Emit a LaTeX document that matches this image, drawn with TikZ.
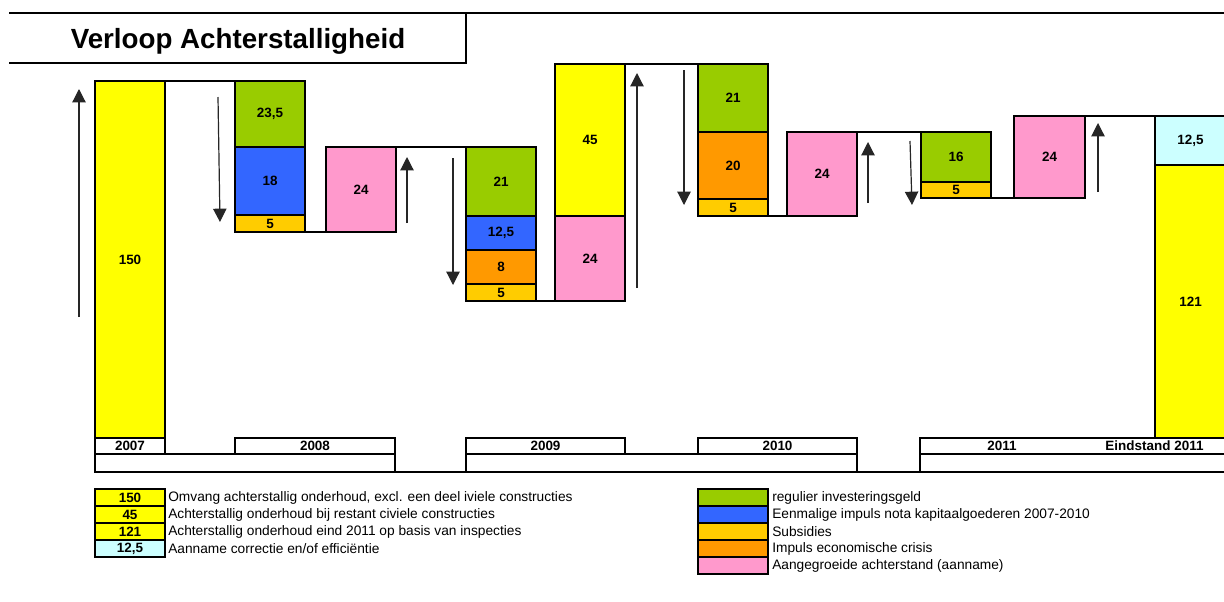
\documentclass[tikz,border=0pt]{standalone}
\usepackage{fontspec}
\setmainfont{Liberation Sans}
\usetikzlibrary{arrows.meta}
\definecolor{cYel}{HTML}{FFFF00}
\definecolor{cGrn}{HTML}{99CC00}
\definecolor{cBlu}{HTML}{3366FF}
\definecolor{cGld}{HTML}{FFCC00}
\definecolor{cOra}{HTML}{FF9900}
\definecolor{cPnk}{HTML}{FF99CC}
\definecolor{cCya}{HTML}{CCFFFF}
\newcommand\segbx[7]{\node[segbox,fill=#6,minimum width={(#4-#2)*0.75pt},minimum height={(#5-#3)*0.75pt}] (#1) at ({(#2+#4)/2},{(#3+#5)/2}) {#7};}
\newcommand\axbx[6]{\node[segbox,fill=white,minimum width={(#4-#2)*0.75pt},minimum height={(#5-#3)*0.75pt}] (#1) at ({(#2+#4)/2},{(#3+#5)/2}) {#6};}
\tikzset{
  segbox/.style={draw=black,line width=1.5pt,inner sep=0pt,outer sep=0pt,rectangle,font=\fontsize{10.1}{12}\selectfont\bfseries},
  stepline/.style={draw=black,line width=1.5pt},
  flowarrow/.style={draw=black!85,line width=0.9pt,-{Triangle[width=10pt,length=10pt]}},
  legtext/.style={anchor=west,inner sep=0pt,font=\fontsize{10.3}{12}\selectfont},
  titlefont/.style={font=\fontsize{20.8}{24}\selectfont\bfseries},
}
\begin{document}
\begin{tikzpicture}[x=0.75pt,y=-0.75pt]
\useasboundingbox (0,0) rectangle (1224,601);
% title
\coordinate (tl) at (9,13);
\coordinate (tr) at (1226,13);
\coordinate (tbr) at (466,63);
\coordinate (tbl) at (9,63);
\draw[stepline] (tl) -- (tr);
\draw[stepline] (tbl) -- (tbr) -- (466,13);
\node[titlefont] (title) at (238,41) {Verloop Achterstalligheid};
% bars
\segbx{b07}{95}{81}{165}{438}{cYel}{150}
\segbx{g08}{235}{81}{305}{147}{cGrn}{23,5}
\segbx{bl08}{235}{147}{305}{215}{cBlu}{18}
\segbx{s08}{235}{215}{305}{232}{cGld}{5}
\segbx{p08}{326}{147}{396}{232}{cPnk}{24}
\segbx{g09}{466}{147}{536}{216}{cGrn}{21}
\segbx{bl09}{466}{216}{536}{250}{cBlu}{12,5}
\segbx{o09}{466}{250}{536}{284}{cOra}{8}
\segbx{s09}{466}{284}{536}{301}{cGld}{5}
\segbx{y09}{555}{64}{625}{216}{cYel}{45}
\segbx{p09}{555}{216}{625}{301}{cPnk}{24}
\segbx{g10}{698}{64}{768}{132}{cGrn}{21}
\segbx{o10}{698}{132}{768}{199}{cOra}{20}
\segbx{s10}{698}{199}{768}{216}{cGld}{5}
\segbx{p10}{787}{132}{857}{216}{cPnk}{24}
\segbx{g11}{921}{132}{991}{182}{cGrn}{16}
\segbx{s11}{921}{182}{991}{198}{cGld}{5}
\segbx{p11}{1014}{116}{1085}{198}{cPnk}{24}
\segbx{c11}{1155}{116}{1226}{165}{cCya}{12,5}
\segbx{y11}{1155}{165}{1226}{438}{cYel}{121}
% step lines
\draw[stepline] (b07.north east) -- (g08.north west);
\draw[stepline] (s08.south east) -- (p08.south west);
\draw[stepline] (p08.north east) -- (g09.north west);
\draw[stepline] (s09.south east) -- (p09.south west);
\draw[stepline] (y09.north east) -- (g10.north west);
\draw[stepline] (s10.south east) -- (p10.south west);
\draw[stepline] (p10.north east) -- (g11.north west);
\draw[stepline] (s11.south east) -- (p11.south west);
\draw[stepline] (p11.north east) -- (c11.north west);
% arrows
\coordinate (a1s) at (79,317);  \coordinate (a1e) at (79,89);
\coordinate (a2s) at (218,97);  \coordinate (a2e) at (220,222);
\coordinate (a3s) at (407,223); \coordinate (a3e) at (407,157);
\coordinate (a4s) at (453,158); \coordinate (a4e) at (453,285);
\coordinate (a5s) at (637,288); \coordinate (a5e) at (637,73);
\coordinate (a6s) at (684,70);  \coordinate (a6e) at (684,205);
\coordinate (a7s) at (868,203); \coordinate (a7e) at (868,142);
\coordinate (a8s) at (910,141); \coordinate (a8e) at (912,205);
\coordinate (a9s) at (1098,192); \coordinate (a9e) at (1098,123);
\foreach \i in {1,...,9} {\draw[flowarrow] (a\i s) -- (a\i e);}
% axis
\axbx{x07}{95}{438}{165}{454}{2007}
\axbx{x08}{235}{438}{395}{454}{2008}
\axbx{x09}{466}{438}{625}{454}{2009}
\axbx{x10}{698}{438}{857}{454}{2010}
\axbx{x11}{920}{438}{1226}{454}{}
\node[segbox,draw=none] (x11a) at (1002,446) {2011};
\node[segbox,draw=none] (x11b) at (1154.5,446) {Eindstand 2011};
\axbx{r1}{95}{454}{395}{472}{}
\axbx{r2}{466}{454}{857}{472}{}
\axbx{r3}{920}{454}{1226}{472}{}
\draw[stepline] (r1.south east) -- (r2.south west);
\draw[stepline] (r2.south east) -- (r3.south west);
% legend left
\segbx{l1}{95}{489}{165}{506}{cYel}{150}
\segbx{l2}{95}{506}{165}{523}{cYel}{45}
\segbx{l3}{95}{523}{165}{540}{cYel}{121}
\segbx{l4}{95}{540}{165}{557}{cCya}{12,5}
\node[legtext] (lt1) at (168,497.5) {Omvang achterstallig onderhoud, excl. een deel iviele constructies};
\node[legtext] (lt2) at (168,514.5) {Achterstallig onderhoud bij restant civiele constructies};
\node[legtext] (lt3) at (168,531.5) {Achterstallig onderhoud eind 2011 op basis van inspecties};
\node[legtext] (lt4) at (168,548.5) {Aanname correctie en/of efficiëntie};
% legend right
\segbx{m1}{698}{489}{768}{506}{cGrn}{}
\segbx{m2}{698}{506}{768}{523}{cBlu}{}
\segbx{m3}{698}{523}{768}{540}{cGld}{}
\segbx{m4}{698}{540}{768}{557}{cOra}{}
\segbx{m5}{698}{557}{768}{574}{cPnk}{}
\node[legtext] (mt1) at (772,497.5) {regulier investeringsgeld};
\node[legtext] (mt2) at (772,514.5) {Eenmalige impuls nota kapitaalgoederen 2007-2010};
\node[legtext] (mt3) at (772,531.5) {Subsidies};
\node[legtext] (mt4) at (772,548.5) {Impuls economische crisis};
\node[legtext] (mt5) at (772,565.5) {Aangegroeide achterstand (aanname)};
\end{tikzpicture}
\end{document}
